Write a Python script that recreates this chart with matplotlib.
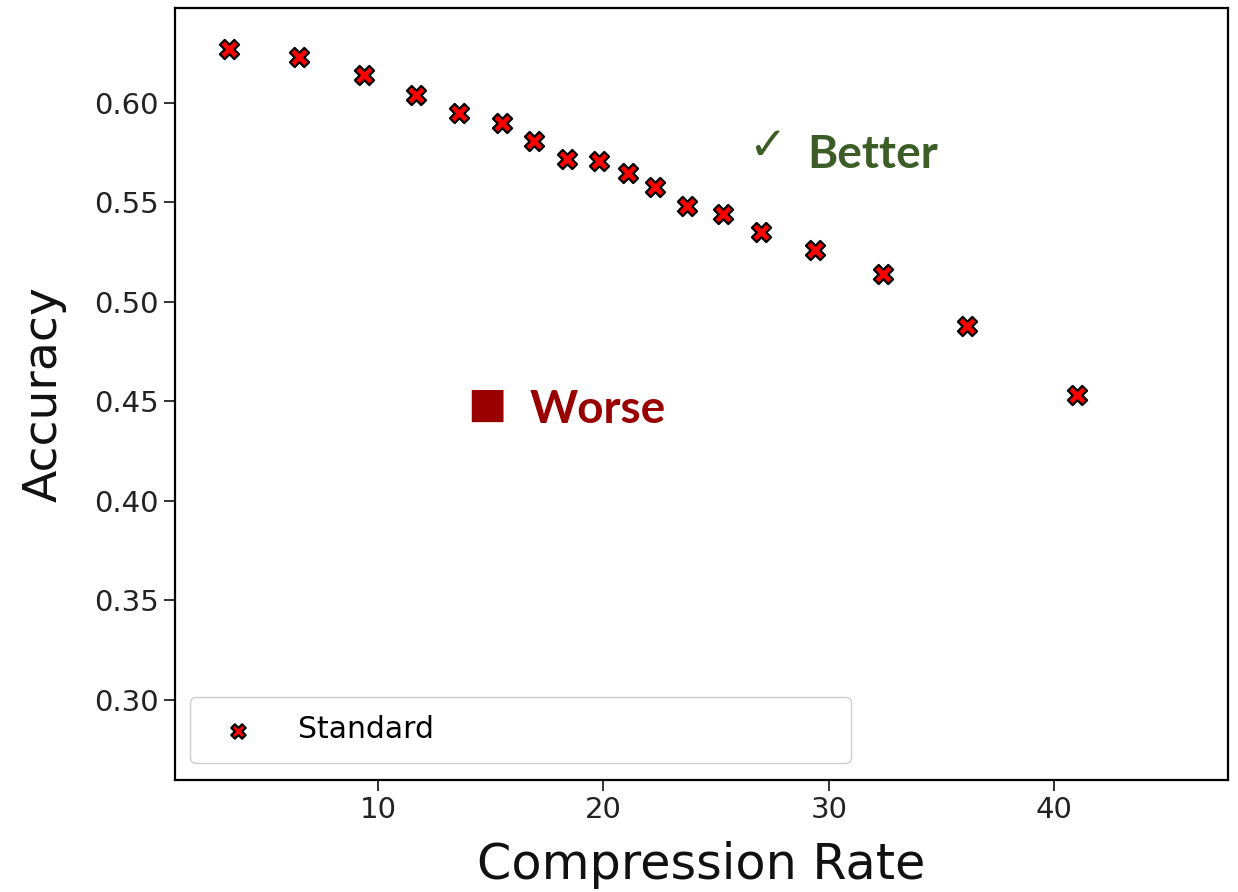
import matplotlib
matplotlib.use("Agg")
import matplotlib.pyplot as plt

# Compression rate vs accuracy
compression = [3.4, 6.5, 9.4, 11.7, 13.6, 15.5, 16.9, 18.4, 19.8, 21.1,
               22.3, 23.7, 25.3, 27.0, 29.4, 32.4, 36.1, 41.0]
accuracy = [0.627, 0.623, 0.614, 0.604, 0.595, 0.590, 0.581, 0.572, 0.571, 0.565,
            0.558, 0.548, 0.544, 0.535, 0.526, 0.514, 0.488, 0.453]
series_label = "Standard"

fig = plt.figure(figsize=(12.38, 8.92), dpi=100)
ax = fig.add_axes([0.1414, 0.1256, 0.8506, 0.8654])

ax.scatter(compression, accuracy, marker="X", s=190, c="red",
           edgecolors="black", linewidths=1.6, label=series_label, zorder=3)

ax.set_xlim(1.0, 47.7)
ax.set_ylim(0.2598, 0.6477)
ax.set_xticks([10, 20, 30, 40])
ax.set_yticks([0.30, 0.35, 0.40, 0.45, 0.50, 0.55, 0.60])
ax.tick_params(labelsize=21, length=8, width=1.3, colors="#222222")
for s in ax.spines.values():
    s.set_linewidth(1.6)

ax.set_xlabel("Compression Rate", fontsize=35.5, color="#111111", labelpad=12)
ax.set_ylabel("Accuracy", fontsize=34, color="#111111", labelpad=20)

# annotations
ax.text(27.25, 0.5779, "\u2713", fontsize=33, color="#3c5e26", ha="center", va="center",
        family=["DejaVu Sans"])
ax.text(29.05, 0.5739, "Better", fontsize=33, color="#3c5e26", fontweight="bold",
        ha="left", va="center", family=["Lato", "DejaVu Sans"])
ax.text(14.83, 0.4482, "\u25a0", fontsize=30, color="#990000", ha="center", va="center",
        family=["DejaVu Sans"])
ax.text(16.74, 0.4457, "Worse", fontsize=33, color="#990000", fontweight="bold",
        ha="left", va="center", family=["Lato", "DejaVu Sans"])

leg = ax.legend(loc="lower left", bbox_to_anchor=(0.014, 0.022, 0.628, 0.082),
                mode="expand", borderaxespad=0, fontsize=21.5, scatterpoints=1,
                markerscale=0.75, borderpad=0.62, handletextpad=1.0, framealpha=1)
leg.get_frame().set_edgecolor("#cccccc")

fig.savefig("out.png", dpi=100)
